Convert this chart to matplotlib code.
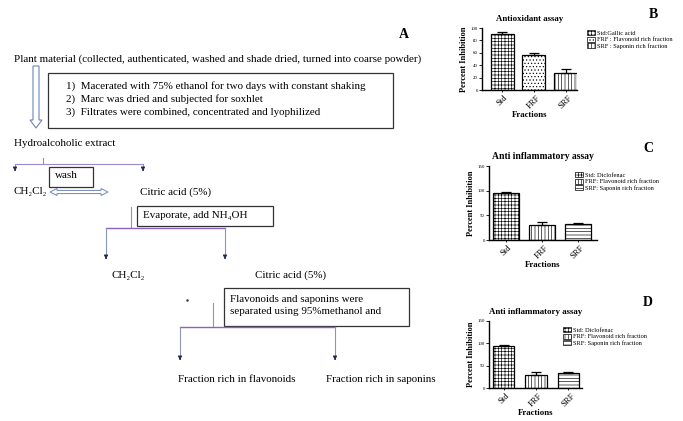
import numpy as np
import matplotlib
matplotlib.use('Agg')
import matplotlib.pyplot as plt
from matplotlib.patches import Rectangle, Patch, FancyArrow, Polygon

plt.rcParams['font.family'] = ['Liberation Serif', 'DejaVu Serif']
plt.rcParams['hatch.linewidth'] = 0.45

W, H = 683, 421

# bar chart data
fractions = ['Std', 'FRF', 'SRF']
antiox = [91, 56, 28]
antiox_err = [2, 4, 6]
antiinf_c = [95, 30, 33]
antiinf_c_err = [1.5, 6, 2]
antiinf_d = [95, 30, 33]
antiinf_d_err = [1.5, 6, 2]

legend_b = ['Std:Gallic acid', 'FRF : Flavonoid rich fraction', 'SRF : Saponin rich fraction']
legend_cd = ['Std: Diclofenac', 'FRF: Flavonoid rich fraction', 'SRF: Saponin rich fraction']

steps = ['1)  Macerated with 75% ethanol for two days with constant shaking',
         '2)  Marc was dried and subjected for soxhlet',
         '3)  Filtrates were combined, concentrated and lyophilized']

fig = plt.figure(figsize=(W / 100, H / 100), dpi=100)

# ---- flowchart (pixel coords) ----
ax = fig.add_axes([0, 0, 1, 1])
ax.set_xlim(0, W)
ax.set_ylim(H, 0)
ax.axis('off')

fs = 7.9
line_c = '#9a88cc'
shaft_c = '#8a96b4'
head_c = '#1c2752'


def txt(x, y, s, size=fs, **kw):
    ax.text(x, y, s, fontsize=size, va='center', ha='left', **kw)


def box(x0, y0, x1, y1):
    ax.add_patch(Rectangle((x0, y0), x1 - x0, y1 - y0, fill=False, ec='#333333', lw=0.9))


def down_arrow(x, y0, y1):
    ax.plot([x, x], [y0, y1 - 4], color=shaft_c, lw=0.8)
    ax.annotate('', xy=(x, y1), xytext=(x, y1 - 7),
                arrowprops=dict(arrowstyle='-|>', color=head_c, lw=0.6, mutation_scale=6))


txt(399, 35, 'A', size=10, fontweight='bold')
txt(14, 59, 'Plant material (collected, authenticated, washed and shade dried, turned into coarse powder)')

# hollow down arrow
ax.add_patch(FancyArrow(36, 66, 0, 62, width=6, head_width=12, head_length=8,
                        length_includes_head=True, fc='white', ec='#6f86b8', lw=0.8))
box(48, 73, 393, 128)
for i, s in enumerate(steps):
    txt(66, 86 + 13 * i, s)

txt(14, 144, 'Hydroalcoholic extract')
ax.plot([15, 143], [164, 164], color=line_c, lw=0.8)
ax.plot([43, 43], [158, 164], color=line_c, lw=0.8)
down_arrow(15, 164, 174)
down_arrow(143, 164, 174)

box(49, 167, 93, 187)
txt(55, 176, 'wash')
txt(14, 192, 'CH₂Cl₂')
txt(140, 192, 'Citric acid (5%)')

# hollow double arrow
xa, xb, yc = 50, 108, 192
sh, hw, hl = 1.6, 3.5, 7
dbl = [(xa, yc), (xa + hl, yc - hw), (xa + hl, yc - sh), (xb - hl, yc - sh), (xb - hl, yc - hw),
       (xb, yc), (xb - hl, yc + hw), (xb - hl, yc + sh), (xa + hl, yc + sh), (xa + hl, yc + hw)]
ax.add_patch(Polygon(dbl, closed=True, fc='white', ec='#6f86b8', lw=0.7))

ax.plot([131, 131], [207, 228], color=shaft_c, lw=0.8)
box(137, 206, 273, 226)
txt(143, 216, 'Evaporate, add NH₄OH')
ax.plot([106, 225], [228, 228], color='#8e62c0', lw=1.0)
down_arrow(106, 228, 262)
down_arrow(225, 228, 262)
txt(112, 275, 'CH₂Cl₂')
txt(255, 275, 'Citric acid (5%)')

ax.plot([187], [300], marker='.', ms=1.5, color='#333333')
box(224, 288, 409, 326)
txt(230, 299, 'Flavonoids and saponins were')
txt(230, 312, 'separated using 95%methanol and')
ax.plot([213, 213], [303, 327], color=shaft_c, lw=0.8)
ax.plot([180, 335], [327, 327], color='#8e62c0', lw=1.0)
down_arrow(180, 327, 363)
down_arrow(335, 327, 363)
txt(178, 379, 'Fraction rich in flavonoids')
txt(326, 379, 'Fraction rich in saponins')


# ---- bar charts ----
def bar_panel(rect, xlim, ymax, yticks, vals, errs, hatches, title, tsize, labels, leg_xy,
              letter, letter_xy, width):
    x0, y0, x1, y1 = rect
    a = fig.add_axes([x0 / W, 1 - y1 / H, (x1 - x0) / W, (y1 - y0) / H])
    pos = np.arange(len(fractions))
    bars = a.bar(pos, vals, width=width, color='white', edgecolor='black', lw=0.9)
    for b, h in zip(bars, hatches):
        b.set_hatch(h)
    a.errorbar(pos, vals, yerr=[np.zeros(len(errs)), errs], fmt='none', ecolor='black',
               elinewidth=0.9, capsize=3.5, capthick=0.9)
    a.set_xlim(*xlim)
    a.set_ylim(0, ymax)
    a.set_yticks(yticks)
    a.tick_params(axis='y', labelsize=3.5, length=2, width=0.6, pad=1)
    a.set_xticks(pos)
    a.set_xticklabels(fractions, rotation=45, fontsize=6.2)
    a.tick_params(axis='x', length=1.5, width=0.6, pad=1)
    for s in ['top', 'right']:
        a.spines[s].set_visible(False)
    for s in ['left', 'bottom']:
        a.spines[s].set_linewidth(1.0)
    a.set_title(title, fontsize=tsize, fontweight='bold', pad=5)
    a.set_ylabel('Percent Inhibition', fontsize=6, fontweight='bold', labelpad=2)
    a.set_xlabel('Fractions', fontsize=6.3, fontweight='bold', labelpad=1)
    handles = [Patch(fc='white', ec='black', hatch=h, lw=0.5) for h in hatches]
    fig.legend(handles, labels, loc='upper left', bbox_to_anchor=(leg_xy[0] / W, 1 - leg_xy[1] / H),
               fontsize=4.6, frameon=False, handlelength=1.2, handleheight=0.8,
               labelspacing=0.15, handletextpad=0.4, borderpad=0, borderaxespad=0)
    fig.text(letter_xy[0] / W, 1 - letter_xy[1] / H, letter, fontsize=10, fontweight='bold',
             ha='center', va='center')


bar_panel((482, 28, 577, 90), (-0.63, 2.35), 100, [0, 20, 40, 60, 80, 100], antiox, antiox_err,
          ['+++++', '.....', '|||||'], 'Antioxidant assay', 6.3, legend_b, (587, 30), 'B', (653, 14), 0.72)
bar_panel((489, 166, 597, 240), (-0.47, 2.53), 150, [0, 50, 100, 150], antiinf_c, antiinf_c_err,
          ['+++++', '|||||', '-----'], 'Anti inflammatory assay', 6.9, legend_cd, (575, 172), 'C', (648, 148), 0.7)
bar_panel((489, 321, 582, 388), (-0.45, 2.42), 150, [0, 50, 100, 150], antiinf_d, antiinf_d_err,
          ['+++++', '|||||', '-----'], 'Anti inflammatory assay', 6.4, legend_cd, (563, 327), 'D', (648, 303), 0.66)

fig.savefig('out.png', dpi=100)
